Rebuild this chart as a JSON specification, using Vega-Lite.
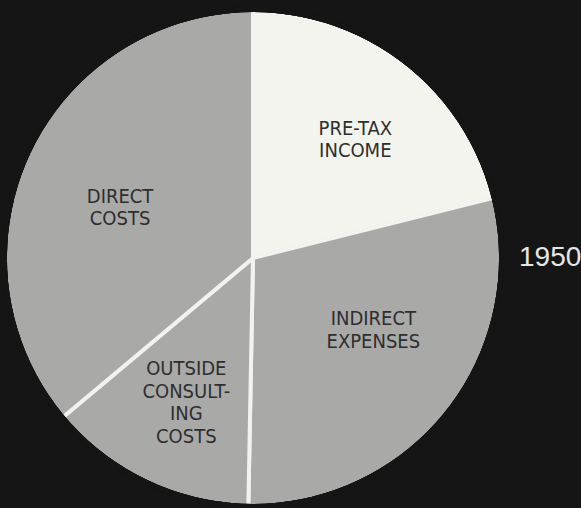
{
  "$schema": "https://vega.github.io/schema/vega-lite/v6.json",
  "width": 506,
  "height": 516,
  "padding": 0,
  "autosize": {"type": "pad"},
  "background": "#151515",
  "title": {
    "text": "1950",
    "orient": "right",
    "angle": 0,
    "align": "right",
    "baseline": "middle",
    "anchor": "middle",
    "offset": 13,
    "fontSize": 28,
    "font": "Liberation Sans",
    "fontWeight": "normal",
    "color": "#e6e6e6"
  },
  "data": {
    "values": [
      {"order": 1, "slice": "PRE-TAX\nINCOME", "value": 21.1},
      {"order": 2, "slice": "INDIRECT\nEXPENSES", "value": 29.2},
      {"order": 3, "slice": "OUTSIDE\nCONSULT-\nING\nCOSTS", "value": 13.6},
      {"order": 4, "slice": "DIRECT\nCOSTS", "value": 36.1}
    ]
  },
  "layer": [
    {
      "mark": {"type": "arc", "outerRadius": 248, "stroke": "#f2f2ee", "strokeWidth": 4, "strokeJoin": "round"},
      "encoding": {
        "theta": {"field": "value", "type": "quantitative", "stack": true},
        "order": {"field": "order", "type": "quantitative"},
        "color": {
          "field": "slice",
          "type": "nominal",
          "scale": {
            "domain": ["PRE-TAX\nINCOME", "INDIRECT\nEXPENSES", "OUTSIDE\nCONSULT-\nING\nCOSTS", "DIRECT\nCOSTS"],
            "range": ["#f4f4ef", "#a9a9a8", "#a9a9a8", "#a9a9a8"]
          },
          "legend": null
        }
      }
    },
    {
      "mark": {"type": "arc", "theta": 0, "theta2": 6.2832, "innerRadius": 246, "outerRadius": 251, "fill": "#151515"},
      "encoding": {}
    },
    {
      "mark": {
        "type": "text",
        "radius": 150,
        "lineBreak": "\n",
        "lineHeight": 22.5,
        "font": "DejaVu Sans Condensed, Liberation Sans",
        "fontSize": 20,
        "fill": "#2e2e2e",
        "align": "center",
        "baseline": "middle",
        "dx": {"expr": "datum.order == 1 ? 10 : datum.order == 2 ? 3 : datum.order == 3 ? -2 : 3"},
        "dy": {"expr": "datum.order == 1 ? -11 : datum.order == 2 ? -32 : datum.order == 3 ? -24 : 2"}
      },
      "encoding": {
        "theta": {"field": "value", "type": "quantitative", "stack": true},
        "order": {"field": "order", "type": "quantitative"},
        "text": {"field": "slice", "type": "nominal"}
      }
    }
  ],
  "config": {"view": {"stroke": null}}
}
